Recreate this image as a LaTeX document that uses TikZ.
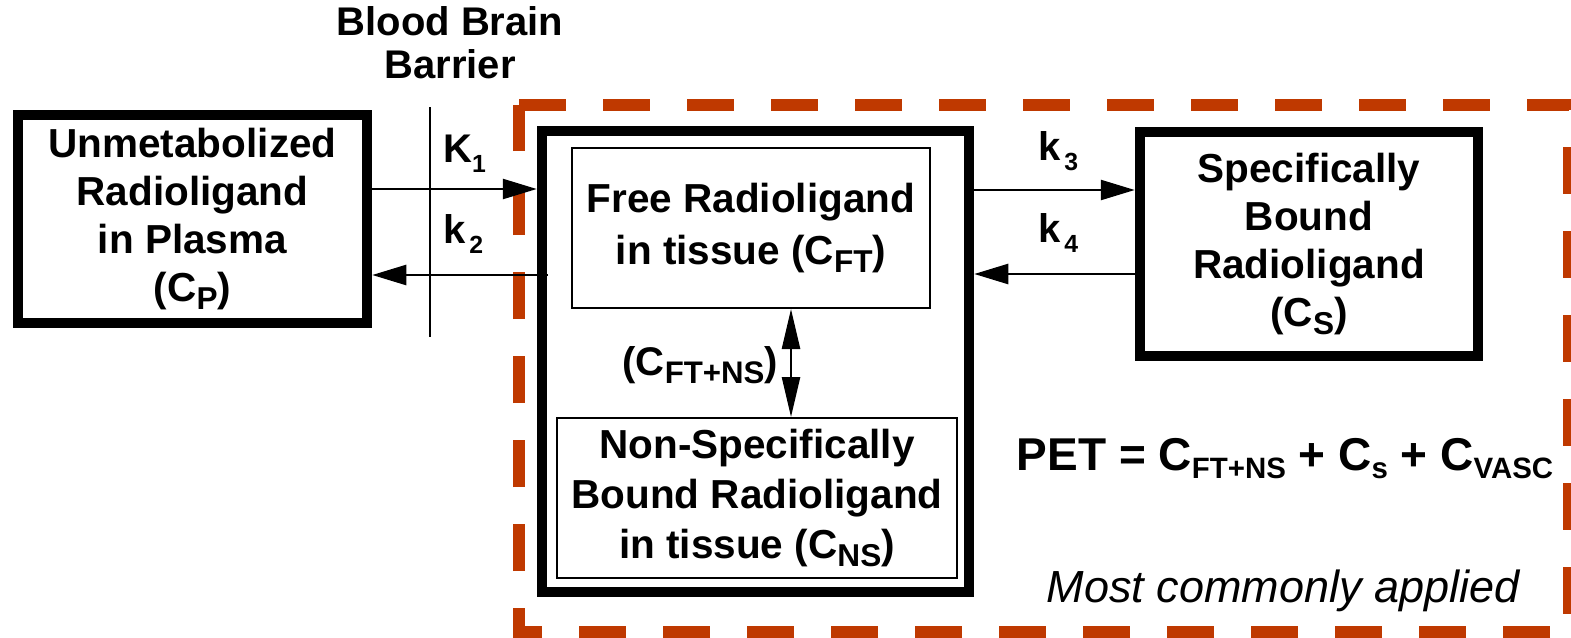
\documentclass[tikz,border=0pt]{standalone}
\usepackage{fontspec}
\setmainfont{Liberation Sans}
\usetikzlibrary{arrows.meta}
\definecolor{bbbred}{RGB}{191,57,0}
\newcommand\subt[1]{\raisebox{-0.2em}{\scalebox{0.78}{#1}}}
\newcommand\subp[1]{\raisebox{-0.18em}{\scalebox{0.64}{#1}}}
\newcommand\subk[1]{\raisebox{-0.27em}{\scalebox{0.62}{#1}}}
\begin{document}
\begin{tikzpicture}[x=1pt,y=-1pt,
  thickbox/.style={draw,line width=10.5pt,inner sep=0pt,align=center,font=\fontsize{40.5}{48}\selectfont\bfseries},
  thinbox/.style={draw,line width=2pt,inner sep=0pt,align=center,font=\fontsize{40.5}{50}\selectfont\bfseries},
  arr/.style={line width=2.5pt,-{Triangle[length=34pt,width=20pt]}},
  dblarr/.style={line width=2.5pt,{Triangle[length=40pt,width=18pt]}-{Triangle[length=40pt,width=18pt]}},
  klab/.style={inner sep=0pt,font=\fontsize{40}{48}\selectfont\bfseries},
  plainlab/.style={inner sep=0pt,align=center,font=\fontsize{40}{43}\selectfont\bfseries},
  dashbox/.style={draw=bbbred,line width=12pt,dash pattern=on 47pt off 37pt}]
\useasboundingbox (0,0) rectangle (1571,637);
\fill[white] (0,0) rectangle (1571,637);
% dashed region
\coordinate (d1) at (519,105);
\coordinate (d2) at (1569,105);
\coordinate (d3) at (1569,632);
\coordinate (d4) at (519,632);
\draw[dashbox] (d1) -- (d2) -- (d3) -- (d4) -- (d1);
% boxes
\node[thickbox,minimum width=349pt,minimum height=208pt] (lbox) at (192.5,219)
  {Unmetabolized\\Radioligand\\in Plasma\\(C\subt{P})};
\node[draw,line width=10.5pt,inner sep=0pt,minimum width=427pt,minimum height=461pt] (mbox) at (755.5,361.5) {};
\node[thinbox,minimum width=358pt,minimum height=160pt,font=\fontsize{40.5}{52}\selectfont\bfseries] (free) at (751,228)
  {Free Radioligand\\in tissue (C\subt{FT})};
\node[thinbox,minimum width=400pt,minimum height=160pt] (nonspec) at (757,498)
  {Non-Specifically\\Bound Radioligand\\in tissue (C\subt{NS})};
\node[thickbox,minimum width=338pt,minimum height=224pt] (rbox) at (1309,244)
  {Specifically\\Bound\\Radioligand\\(C\subt{S})};
% barrier
\node[plainlab] (bbb) at (450,43) {Blood Brain\\Barrier};
\coordinate (bbtop) at (430,107);
\coordinate (bbbot) at (430,337);
\draw[line width=2.5pt] (bbtop) -- (bbbot);
% arrows
\coordinate (y1) at (0,189);
\coordinate (y2) at (0,275);
\coordinate (y3) at (0,190);
\coordinate (y4) at (0,274);
\coordinate (k2start) at (548,275);
\draw[arr] (lbox.east |- y1) -- (mbox.west |- y1);
\draw[arr] (k2start) -- (lbox.east |- y2);
\draw[arr] (mbox.east |- y3) -- (rbox.west |- y3);
\draw[arr] (rbox.west |- y4) -- (mbox.east |- y4);
\coordinate (dx) at (791,0);
\draw[dblarr] (free.south -| dx) -- (nonspec.north -| dx);
% labels
\node[klab,anchor=base west] (K1) at (443,162) {K\subk{1}};
\node[klab,anchor=base west] (K2) at (443,243) {k\hspace{4pt}\subk{2}};
\node[klab,anchor=base west] (K3) at (1038,160) {k\hspace{4pt}\subk{3}};
\node[klab,anchor=base west] (K4) at (1038,242) {k\hspace{4pt}\subk{4}};
\node[klab,font=\fontsize{40}{48}\selectfont\bfseries,anchor=base east] (cftns) at (778,375) {(C\subt{FT+NS})};
\node[klab,font=\fontsize{46}{54}\selectfont\bfseries,anchor=base] (pet) at (1285,470)
  {PET = C\subp{FT+NS} + C\subp{s} + C\subp{VASC}};
\node[inner sep=0pt,font=\fontsize{45}{50}\selectfont\itshape,anchor=base] (most) at (1283,602) {Most commonly applied};
\end{tikzpicture}
\end{document}
